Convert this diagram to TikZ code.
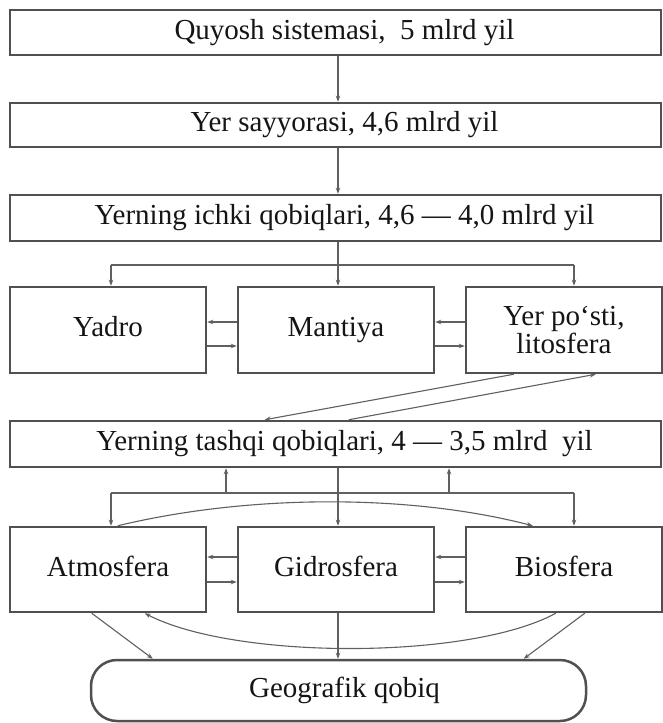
\documentclass[tikz,border=0pt]{standalone}
\usepackage{fontspec}
\setmainfont{Liberation Serif}
\usetikzlibrary{arrows.meta,calc}
\definecolor{boxc}{HTML}{505050}
\definecolor{linec}{HTML}{606060}
\definecolor{txtc}{HTML}{151515}
\newcommand{\txtpush}{\hspace*{18pt}}
\begin{document}
\begin{tikzpicture}[x=1pt,y=-1pt,
  box/.style={draw=boxc,line width=2.5pt,fill=white,inner sep=0pt,text=txtc,align=center,font=\fontsize{29}{25}\selectfont,text height=19pt,text depth=6pt},
  wide/.style={box,minimum width=651pt,minimum height=#1},
  cell/.style={box,minimum width=196pt,minimum height=#1},
  conn/.style={draw=linec,line width=1.1pt},
  arr/.style={conn,-{Stealth[length=6pt,width=4.5pt]}}
]
\useasboundingbox[fill=white] (0,0) rectangle (663,723);
% boxes
\node[wide=45pt] (q) at (335.5,32.5) {\txtpush Quyosh sistemasi,\ \ 5 mlrd yil};
\node[wide=44pt] (ys) at (335.5,125) {\txtpush Yer sayyorasi, 4,6 mlrd yil};
\node[wide=46pt] (ich) at (335.5,218) {\txtpush Yerning ichki qobiqlari, 4,6 --- 4,0 mlrd yil};
\node[cell=86pt] (yad) at (108,330) {Yadro};
\node[cell=86pt] (man) at (336,330) {Mantiya};
\node[cell=86pt,text height=,text depth=] (yer) at (564,330) {Yer po‘sti,\\litosfera};
\node[wide=46pt] (tas) at (335.5,444) {\txtpush Yerning tashqi qobiqlari, 4 --- 3,5 mlrd\ \ yil};
\node[cell=85pt] (atm) at (108,569.5) {Atmosfera};
\node[cell=85pt] (gid) at (336,569.5) {Gidrosfera};
\node[cell=85pt] (bio) at (564,569.5) {Biosfera};
\node[box,minimum width=495pt,minimum height=61pt,rounded corners=26pt] (geo) at (338.5,690.5) {\hspace*{12pt}Geografik qobiq};
% top chain
\draw[arr] (q.south -| 338,0) -- (ys.north -| 338,0);
\draw[arr] (ys.south -| 338,0) -- (ich.north -| 338,0);
\draw[arr] (ich.south -| 338,0) -- (man.north -| 338,0);
\coordinate (bl) at (111,265);
\coordinate (br) at (574,265);
\draw[conn] (bl) -- (br);
\draw[arr] (bl) -- (bl |- yad.north);
\draw[arr] (br) -- (br |- yer.north);
% row 1 horizontal
\draw[arr] ($(man.west)+(0,-8)$) -- ($(yad.east)+(0,-8)$);
\draw[arr] ($(yad.east)+(0,16)$) -- ($(man.west)+(0,16)$);
\draw[arr] ($(yer.west)+(0,-8)$) -- ($(man.east)+(0,-8)$);
\draw[arr] ($(man.east)+(0,16)$) -- ($(yer.west)+(0,16)$);
% diagonals
\draw[arr] ($(yer.south west)+(49,0)$) -- ($(tas.north west)+(256,0)$);
\draw[arr] ($(tas.north west)+(340,0)$) -- ($(yer.south west)+(131,0)$);
% tashqi to row 2
\draw[arr] (tas.south -| 338,0) -- (gid.north -| 338,0);
\coordinate (cl) at (111,493);
\coordinate (cr) at (574,493);
\draw[conn] (cl) -- (cr);
\draw[arr] (cl) -- (cl |- atm.north);
\draw[arr] (cr) -- (cr |- bio.north);
\draw[arr] (226,493) -- (tas.south -| 226,0);
\draw[arr] (449,493) -- (tas.south -| 449,0);
\draw[arr] ($(atm.north west)+(109,0)$) .. controls (250,494) and (410,494) .. ($(bio.north west)+(68,0)$);
% row 2 horizontal
\draw[arr] ($(gid.west)+(0,-12.5)$) -- ($(atm.east)+(0,-12.5)$);
\draw[arr] ($(atm.east)+(0,12.5)$) -- ($(gid.west)+(0,12.5)$);
\draw[arr] ($(bio.west)+(0,-12.5)$) -- ($(gid.east)+(0,-12.5)$);
\draw[arr] ($(gid.east)+(0,12.5)$) -- ($(bio.west)+(0,12.5)$);
% bottom
\draw[arr] ($(bio.south west)+(91,0)$) .. controls (470,660) and (235,660) .. ($(atm.south west)+(136,0)$);
\draw[arr] ($(atm.south west)+(83,0)$) -- ($(geo.north west)+(63,0)$);
\draw[arr] (gid.south -| 338,0) -- (geo.north -| 338,0);
\draw[arr] ($(bio.south west)+(120,0)$) -- ($(geo.north west)+(434,0)$);
\end{tikzpicture}
\end{document}
